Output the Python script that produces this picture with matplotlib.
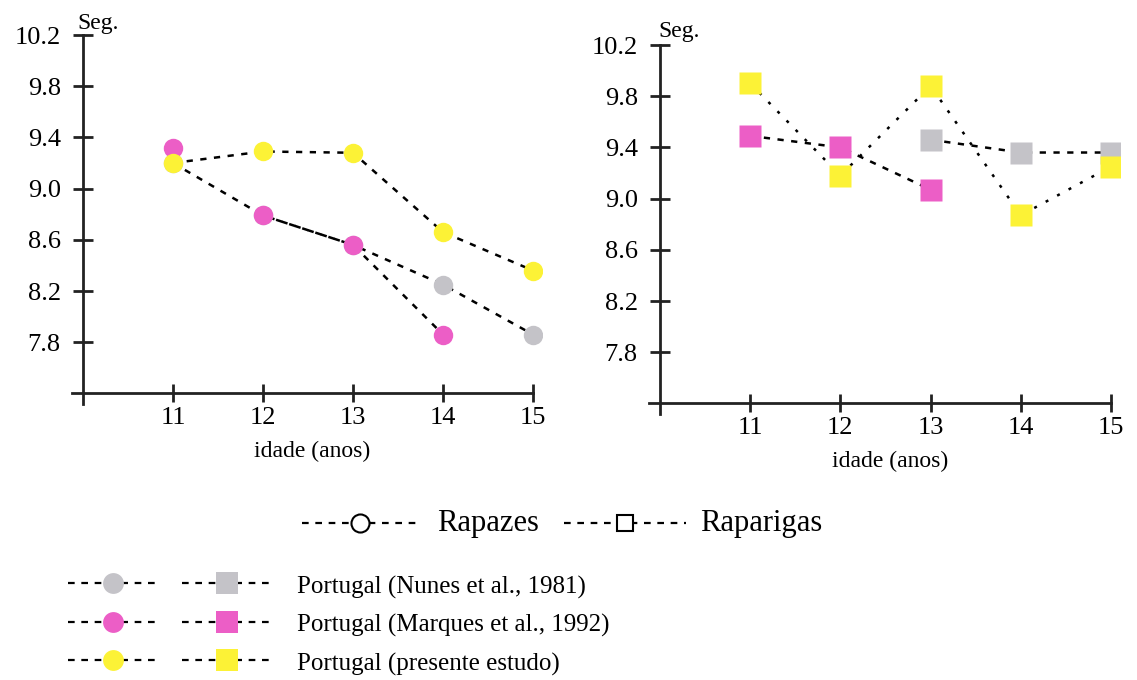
import matplotlib.pyplot as plt
import numpy as np

plt.rcParams["font.family"] = ["Liberation Serif", "DejaVu Serif"]

# Idades e escala do eixo vertical (segundos)
ages = [11, 12, 13, 14, 15]
yticks = [7.8, 8.2, 8.6, 9.0, 9.4, 9.8, 10.2]

# Rapazes
boys_nunes = [9.20, 8.79, 8.56, 8.25, 7.86]
boys_marques = [9.32, 8.79, 8.56, 7.86, np.nan]
boys_presente = [9.20, 9.29, 9.28, 8.66, 8.36]

# Raparigas
girls_nunes = [np.nan, np.nan, 9.46, 9.36, 9.36]
girls_marques = [9.49, 9.40, 9.07, np.nan, np.nan]
girls_presente = [9.90, 9.18, 9.88, 8.87, 9.25]

sources = [
    "Portugal (Nunes et al., 1981)",
    "Portugal (Marques et al., 1992)",
    "Portugal (presente estudo)",
]
colors = ["#c4c3c8", "#ec5ec6", "#fcf236"]

DASH = (0, (2.5, 3))
DOT = (0, (1.2, 4))
INK = "#222222"

W, H = 1137, 680
fig = plt.figure(figsize=(W / 100, H / 100), dpi=100)


def place(x10, x15, y102, px_per_unit, xlim=(9.8, 15.1), ylim=(7.3, 10.3)):
    # position an axes so that age 10/15 and 10.2 s land on the given pixels
    px_x = (x15 - x10) / 5
    left = x10 - (10 - xlim[0]) * px_x
    right = x15 + (xlim[1] - 15) * px_x
    top = y102 - (ylim[1] - 10.2) * px_per_unit
    bottom = y102 + (10.2 - ylim[0]) * px_per_unit
    ax = fig.add_axes([left / W, 1 - bottom / H, (right - left) / W, (bottom - top) / H])
    ax.set_xlim(xlim)
    ax.set_ylim(ylim)
    return ax


def style(ax, seg_offset):
    ax.patch.set_alpha(0)
    for s in ["top", "right"]:
        ax.spines[s].set_visible(False)
    ax.spines["left"].set_position(("data", 10))
    ax.spines["bottom"].set_position(("data", 7.4))
    ax.spines["left"].set_bounds(7.32, 10.2)
    ax.spines["bottom"].set_bounds(9.88, 15)
    for s in ["left", "bottom"]:
        ax.spines[s].set_linewidth(2.0)
        ax.spines[s].set_color(INK)
    ax.set_xticks(ages)
    ax.set_yticks(yticks)
    ax.set_yticklabels([f"{v:.1f}" for v in yticks])
    ax.tick_params(direction="inout", width=2, color=INK, labelsize=19)
    ax.tick_params(axis="y", length=14, pad=9)
    ax.tick_params(axis="x", length=13, pad=3)
    ax.annotate("Seg.", xy=(10, 10.2), xytext=seg_offset, textcoords="offset points",
                ha="center", va="bottom", fontsize=17)
    ax.text(12.55, -0.119, "idade (anos)", transform=ax.get_xaxis_transform(),
            ha="center", va="center", fontsize=17)


def series(ax, x, y, color, marker, ms, ls=DASH, line_from=0):
    ax.plot(x[line_from:], y[line_from:], color="k", ls=ls, lw=1.8, zorder=2)
    ax.plot(x, y, ls="none", marker=marker, ms=ms, mfc=color, mec="none", zorder=3)


# Rapazes
ax1 = place(83, 533, 35, 128)
style(ax1, (11, 1))
series(ax1, ages, boys_nunes, colors[0], "o", 14)
series(ax1, ages, boys_marques, colors[1], "o", 14, line_from=1)
series(ax1, ages, boys_presente, colors[2], "o", 14)

# Raparigas
ax2 = place(660, 1111, 45, 128)
style(ax2, (14, 2))
series(ax2, ages, girls_nunes, colors[0], "s", 15.5)
series(ax2, ages, girls_marques, colors[1], "s", 15.5)
series(ax2, ages, girls_presente, colors[2], "s", 15.5, ls=DOT)

# Legenda
lg = fig.add_axes([0, 0, 1, 1])
lg.set_xlim(0, W)
lg.set_ylim(H, 0)
lg.axis("off")


def key(x0, x1, y, marker, ms, mfc, mec="none", mew=0):
    lg.plot([x0, x1], [y, y], color="k", ls=(0, (3, 3)), lw=1.6, zorder=1)
    lg.plot([(x0 + x1) / 2], [y], ls="none", marker=marker, ms=ms, mfc=mfc,
            mec=mec, mew=mew, zorder=2)


key(302, 418, 523, "o", 13, "white", "k", 1.5)
lg.text(437, 523, "Rapazes", va="center", ha="left", fontsize=22)
key(564, 686, 523, "s", 12, "white", "k", 1.5)
lg.text(700, 523, "Raparigas", va="center", ha="left", fontsize=22)

for i, (label, c) in enumerate(zip(sources, colors)):
    y = 583 + i * 38.5
    key(68, 158, y, "o", 15, c)
    key(182, 271, y, "s", 16, c)
    lg.text(297, y + 4, label, va="center", ha="left", fontsize=18)

fig.savefig("out.png", dpi=100, facecolor="white")
